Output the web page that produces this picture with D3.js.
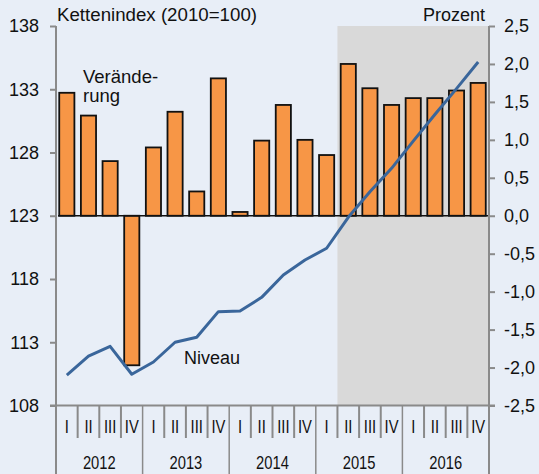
<!DOCTYPE html>
<html lang="de">
<head>
<meta charset="UTF-8">
<title>Kettenindex</title>
<script src="https://d3js.org/d3.v7.min.js"></script>
<style>
  body { margin: 0; background: #e8eef7; }
  svg text { font-family: "Liberation Sans", Arial, sans-serif; fill: #111; }
</style>
</head>
<body>
<svg id="chart" width="539" height="474"></svg>
<script>
// data
const quarters = ["I","II","III","IV","I","II","III","IV","I","II","III","IV","I","II","III","IV","I","II","III","IV"];
const years = ["2012","2013","2014","2015","2016"];
const change = [1.62,1.32,0.72,-1.97,0.90,1.37,0.32,1.81,0.05,0.99,1.46,1.00,0.80,2.00,1.68,1.46,1.55,1.55,1.65,1.75];
const level = [110.41,111.91,112.68,110.47,111.44,113.0,113.39,115.42,115.47,116.55,118.32,119.5,120.43,122.88,124.9,126.75,128.9,131.0,133.05,135.15];
const leftTicks = [108,113,118,123,128,133,138];
const rightTicks = [-2.5,-2,-1.5,-1,-0.5,0,0.5,1,1.5,2,2.5];
const shadeFrom = 13; // 2015 II onwards

const svg = d3.select("#chart");
const L = 56, R = 489, T = 26, B = 405.5;
const axisCol = "#8a8a8a";

const idx = d3.range(quarters.length);
const x = d3.scaleBand().domain(idx).range([L, R]).paddingInner(0.3).paddingOuter(0.15);
const step = x.step();
const yL = d3.scaleLinear().domain([108, 138]).range([B, T]);
const yR = d3.scaleLinear().domain([-2.5, 2.5]).range([B, T]);

svg.append("rect").attr("width", 539).attr("height", 474).attr("fill", "#e8eef7");

// shaded forecast area
svg.append("rect")
  .attr("x", L + shadeFrom * step).attr("y", T)
  .attr("width", R - (L + shadeFrom * step)).attr("height", B - T)
  .attr("fill", "#d9d9d9");

// bars
svg.selectAll(".bar").data(change).enter().append("rect")
  .attr("x", (d, i) => x(i))
  .attr("width", x.bandwidth())
  .attr("y", d => yR(Math.max(0, d)))
  .attr("height", d => Math.abs(yR(d) - yR(0)))
  .attr("fill", "#f79646")
  .attr("stroke", "#111")
  .attr("stroke-width", 1.8);

// zero line
svg.append("line")
  .attr("x1", L + 2).attr("x2", R).attr("y1", yR(0)).attr("y2", yR(0))
  .attr("stroke", "#111").attr("stroke-width", 1.5);

// level line
const line = d3.line().x((d, i) => x(i) + x.bandwidth() / 2).y(d => yL(d));
svg.append("path").datum(level)
  .attr("d", line).attr("fill", "none")
  .attr("stroke", "#3a669b").attr("stroke-width", 3)
  .attr("stroke-linejoin", "round");

// left axis
const gl = svg.append("g").attr("transform", `translate(${L},0)`)
  .call(d3.axisLeft(yL).tickValues(leftTicks).tickSize(6).tickPadding(11).tickFormat(d3.format("d")));
gl.select(".domain").remove();
gl.selectAll("line").attr("stroke", axisCol).attr("stroke-width", 2);
gl.selectAll("text").attr("font-size", 18).attr("fill", "#111");

// right axis
const fmt = d => d.toFixed(1).replace(".", ",");
const gr = svg.append("g").attr("transform", `translate(${R},0)`)
  .call(d3.axisRight(yR).tickValues(rightTicks).tickSize(6).tickPadding(9).tickFormat(fmt));
gr.select(".domain").remove();
gr.selectAll("line").attr("stroke", axisCol).attr("stroke-width", 2);
gr.selectAll("text").attr("font-size", 18).attr("fill", "#111");

// axis lines
svg.append("line").attr("x1", L).attr("x2", L).attr("y1", T).attr("y2", 474)
  .attr("stroke", axisCol).attr("stroke-width", 2);
svg.append("line").attr("x1", R).attr("x2", R).attr("y1", T).attr("y2", 474)
  .attr("stroke", axisCol).attr("stroke-width", 2);
svg.append("line").attr("x1", L - 6).attr("x2", R + 6).attr("y1", B).attr("y2", B)
  .attr("stroke", axisCol).attr("stroke-width", 2);

// category separators
idx.slice(1).forEach(i => {
  const xs = L + i * step;
  svg.append("line").attr("x1", xs).attr("x2", xs)
    .attr("y1", B).attr("y2", i % 4 === 0 ? 474 : 438)
    .attr("stroke", axisCol).attr("stroke-width", i % 4 === 0 ? 1.5 : 2);
});

// category labels (narrow)
svg.selectAll(".q").data(quarters).enter().append("text")
  .attr("transform", (d, i) => `translate(${L + (i + 0.5) * step},433) scale(0.82,1)`)
  .attr("text-anchor", "middle").attr("font-size", 18).text(d => d);
svg.selectAll(".yr").data(years).enter().append("text")
  .attr("transform", (d, i) => `translate(${L + (i * 4 + 2) * step},469) scale(0.82,1)`)
  .attr("text-anchor", "middle").attr("font-size", 18).text(d => d);

// titles and annotations
svg.append("text").attr("x", 57).attr("y", 20.5).attr("font-size", 18.7).text("Kettenindex (2010=100)");
svg.append("text").attr("x", 485).attr("y", 20.5).attr("font-size", 18).attr("text-anchor", "end").text("Prozent");
svg.append("text").attr("x", 83).attr("y", 82.5).attr("font-size", 18.5).text("Verände-");
svg.append("text").attr("x", 83).attr("y", 102).attr("font-size", 18.5).text("rung");
svg.append("text").attr("x", 184).attr("y", 364).attr("font-size", 18).text("Niveau");
</script>
</body>
</html>
